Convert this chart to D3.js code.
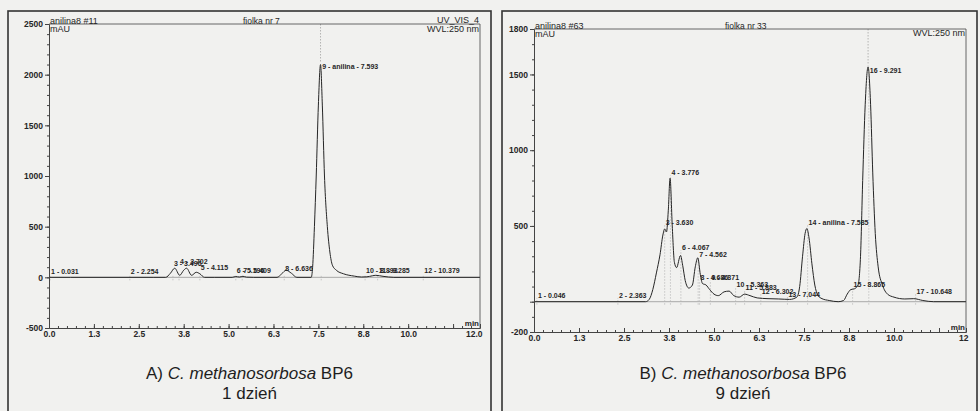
<!DOCTYPE html>
<html>
<head>
<meta charset="utf-8">
<script src="https://cdn.jsdelivr.net/npm/d3@7"></script>
<style>
  body { margin: 0; background: #f1f1ef; }
  svg { display: block; font-family: "Liberation Sans", Arial, sans-serif; }
</style>
</head>
<body>
<div id="chart"></div>
<script>
// --- chromatogram A (1 dzien) ---
var timeA = [0, 0.6, 2.9, 3.25, 3.38, 3.5, 3.64, 3.75, 3.83, 3.97, 4.1, 4.2, 4.33, 4.6,
  5.1, 5.2, 5.3, 5.4, 5.5, 5.7, 6.35, 6.48, 6.6, 6.75, 6.9, 7.3, 7.34, 7.39, 7.44, 7.5,
  7.56, 7.61, 7.67, 7.75, 7.82, 7.89, 8.0, 8.2, 8.5, 8.7, 8.85, 9.0, 9.1, 9.3, 9.6, 12];
var mauA = [0, 0, 0, 0, 40, 90, 20, 70, 90, 20, 50, 35, 0, 0,
  0, 8, 3, 10, 2, 0, 0, 35, 70, 40, 0, 0, 100, 500, 1000, 1700,
  2100, 1700, 1000, 500, 250, 120, 70, 35, 12, 3, 5, 15, 20, 10, 0, 0];

var peakNameA = ["1 - 0.031", "2 - 2.254", "3 - 3.496", "4 - 3.702", "5 - 4.115", "6 - 5.196",
  "7 - 5.409", "8 - 6.636", "9 - anilina - 7.593", "10 - 8.893", "11 - 9.285", "12 - 10.379"];
var peakTimeA = [0.03, 2.25, 3.45, 3.62, 4.2, 5.2, 5.38, 6.55, 7.58, 8.8, 9.15, 10.42];
var peakLevelA = [30, 30, 110, 135, 70, 40, 40, 60, 2060, 40, 40, 40];

// --- chromatogram B (9 dzien) ---
var timeB = [0, 3.1, 3.2, 3.3, 3.4, 3.5, 3.58, 3.63, 3.68, 3.73, 3.78, 3.84, 3.9, 3.96,
  4.07, 4.13, 4.2, 4.3, 4.4, 4.48, 4.55, 4.62, 4.68, 4.78, 4.88, 5.0, 5.12, 5.28, 5.42,
  5.55, 5.7, 5.85, 6.0, 6.2, 6.5, 6.8, 7.1, 7.3, 7.38, 7.46, 7.53, 7.58, 7.64, 7.72, 7.8,
  7.88, 8.0, 8.2, 8.45, 8.6, 8.7, 8.8, 8.9, 9.0, 9.07, 9.13, 9.2, 9.28, 9.35, 9.41, 9.48,
  9.56, 9.68, 9.82, 10.0, 10.3, 10.55, 10.8, 11.1, 12];
var mauB = [0, 0, 15, 80, 190, 310, 440, 480, 460, 600, 815, 500, 260, 225,
  305, 240, 140, 90, 110, 230, 290, 180, 120, 110, 80, 50, 40, 65, 70,
  40, 30, 50, 40, 25, 20, 18, 15, 30, 100, 300, 450, 483, 420, 250, 110,
  45, 20, 8, 0, 8, 50, 80, 85, 110, 300, 800, 1300, 1550, 1300, 850, 450,
  230, 110, 50, 30, 18, 20, 8, 0, 0];

var peakNameB = ["1 - 0.046", "2 - 2.363", "3 - 3.630", "4 - 3.776", "6 - 4.067", "7 - 4.562",
  "8 - 4.686", "9 - 4.871", "10 - 5.363", "11 - 5.883", "12 - 6.302", "13 - 7.044",
  "14 - anilina - 7.585", "15 - 8.865", "16 - 9.291", "17 - 10.648"];
var peakTimeB = [0.08, 2.33, 3.63, 3.79, 4.08, 4.56, 4.6, 4.9, 5.6, 5.85, 6.3, 7.04,
  7.6, 8.85, 9.3, 10.6];
var peakLevelB = [25, 25, 505, 835, 340, 295, 140, 140, 100, 80, 50, 30, 505, 100, 1510, 50];

// axes
var xTicks = [0, 1.25, 2.5, 3.75, 5, 6.25, 7.5, 8.75, 10, 11.25, 12];
var xTickLabelsA = ["0.0", "1.3", "2.5", "3.8", "5.0", "6.3", "7.5", "8.8", "10.0", "", "12.0"];
var xTickLabelsB = ["0.0", "1.3", "2.5", "3.8", "5.0", "6.3", "7.5", "8.8", "10.0", "", "12"];
var yTicksA = [-500, 0, 500, 1000, 1500, 2000, 2500];
var yTickLabelsA = ["-500", "0", "500", "1000", "1500", "2000", "2500"];
var yTicksB = [-200, 0, 500, 1000, 1500, 1800];
var yTickLabelsB = ["-200", "", "500", "1000", "1500", "1800"];

var W = 980, H = 411;
var ink = "#262626";

var svg = d3.select("#chart").append("svg")
  .attr("width", W).attr("height", H);

svg.append("rect").attr("width", W).attr("height", H).attr("fill", "#f1f1ef");

function drawPanel(p) {
  var x = d3.scaleLinear().domain([0, 12]).range([p.left, p.right]);
  var y = d3.scaleLinear().domain(p.yDomain).range([p.bottom, p.top]);
  var g = svg.append("g");

  // outer frame
  g.append("rect")
    .attr("x", p.frame[0]).attr("y", p.frame[1])
    .attr("width", p.frame[2] - p.frame[0]).attr("height", 420 - p.frame[1])
    .attr("fill", "none").attr("stroke", "#333").attr("stroke-width", 1.6);

  // zero line
  g.append("line")
    .attr("x1", x(0)).attr("x2", x(12)).attr("y1", y(0)).attr("y2", y(0))
    .attr("stroke", "#8a8a8a").attr("stroke-width", 0.7);

  // faint peak markers
  g.selectAll(".mark").data(p.peakTime).enter().append("line")
    .attr("x1", function (d) { return x(d); }).attr("x2", function (d) { return x(d); })
    .attr("y1", y(0) + 3)
    .attr("y2", function (d, i) { return p.dropLines ? y(p.peakLevel[i]) : y(0) - 3; })
    .attr("stroke", "#b5b5b5").attr("stroke-width", 0.7)
    .attr("stroke-dasharray", "1.5,1.5");
  // dotted line from the top to the biggest peak
  g.append("line")
    .attr("x1", x(p.topPeak)).attr("x2", x(p.topPeak))
    .attr("y1", p.top).attr("y2", y(p.topLevel))
    .attr("stroke", "#9a9a9a").attr("stroke-width", 0.7)
    .attr("stroke-dasharray", "1.5,1.5");

  // trace
  var line = d3.line()
    .x(function (d) { return x(d[0]); })
    .y(function (d) { return y(d[1]); })
    .curve(d3.curveMonotoneX);
  g.append("path")
    .datum(d3.zip(p.time, p.mau))
    .attr("d", line)
    .attr("fill", "none").attr("stroke", ink).attr("stroke-width", 1);

  // plot box: top and right edges
  g.append("path")
    .attr("d", "M" + p.left + "," + p.top + "H" + p.right + "V" + p.bottom)
    .attr("fill", "none").attr("stroke", "#444").attr("stroke-width", 0.8);

  // y axis
  var yMinor = d3.range(p.yDomain[0], p.yDomain[1] + 1, 100);
  g.append("g").attr("transform", "translate(" + p.left + ",0)")
    .call(d3.axisLeft(y).tickValues(yMinor).tickSize(2).tickSizeOuter(0).tickFormat(""))
    .call(function (a) { a.selectAll("line,path").attr("stroke", "#444"); });
  g.append("g").attr("transform", "translate(" + p.left + ",0)")
    .call(d3.axisLeft(y).tickValues(p.yTicks).tickSize(4).tickSizeOuter(0).tickPadding(2)
      .tickFormat(function (d, i) { return p.yLabels[i]; }))
    .call(function (a) {
      a.select(".domain").attr("stroke", "#444");
      a.selectAll("line").attr("stroke", "#444");
      a.selectAll("text").attr("font-size", 8.5).attr("font-weight", "bold")
        .attr("fill", ink).attr("font-family", "Liberation Sans, Arial");
    });

  // x axis at the bottom, ticks pointing up
  var xMinor = d3.range(0, 12.01, 0.25);
  g.append("g").attr("transform", "translate(0," + p.bottom + ")")
    .call(d3.axisBottom(x).tickValues(xMinor).tickSize(-2).tickSizeOuter(0).tickFormat(""))
    .call(function (a) { a.selectAll("line,path").attr("stroke", "#444"); });
  g.append("g").attr("transform", "translate(0," + p.bottom + ")")
    .call(d3.axisBottom(x).tickValues(xTicks).tickSize(-4).tickSizeOuter(0).tickPadding(3)
      .tickFormat(function (d, i) { return p.xLabels[i]; }))
    .call(function (a) {
      a.select(".domain").attr("stroke", "#444");
      a.selectAll("line").attr("stroke", "#444");
      a.selectAll("text").attr("font-size", 8.5).attr("font-weight", "bold")
        .attr("fill", ink).attr("font-family", "Liberation Sans, Arial")
        .attr("text-anchor", function (d) { return d === 12 ? "end" : "middle"; })
        .attr("x", function (d) { return d === 12 ? 2 : 0; });
    });

  g.append("text").attr("x", p.right - 1).attr("y", p.bottom - 2)
    .attr("text-anchor", "end").attr("font-size", 8).attr("font-weight", "bold")
    .attr("fill", ink).text("min");

  // peak labels
  g.selectAll(".plabel").data(p.peakName).enter().append("text")
    .attr("x", function (d, i) { return x(p.peakTime[i]) + 1; })
    .attr("y", function (d, i) { return y(p.peakLevel[i]); })
    .attr("font-size", 7).attr("font-weight", "bold").attr("fill", ink)
    .text(function (d) { return d; });

  // header texts
  g.append("text").attr("x", p.left + 1).attr("y", p.top - 0.5)
    .attr("font-size", 9).attr("fill", ink).text(p.sample);
  g.append("text").attr("x", p.left + 1).attr("y", p.top + 8)
    .attr("font-size", 9).attr("fill", ink).text("mAU");
  g.append("text").attr("x", p.vialX).attr("y", p.top - 0.5)
    .attr("font-size", 8.5).attr("fill", ink).text(p.vial);
  if (p.channel) {
    g.append("text").attr("x", p.right - 1).attr("y", p.top - 1.5)
      .attr("text-anchor", "end").attr("font-size", 9).attr("fill", ink).text(p.channel);
  }
  g.append("text").attr("x", p.right - 1).attr("y", p.top + p.wvlDy)
    .attr("text-anchor", "end").attr("font-size", 9).attr("fill", ink).text("WVL:250 nm");

  // caption
  var cx = (p.left + p.right) / 2 + p.captionShift;
  var t1 = g.append("text").attr("x", cx).attr("y", 379).attr("text-anchor", "middle")
    .attr("font-size", 17).attr("fill", "#1e1e1e");
  t1.append("tspan").text(p.letter + ") ");
  t1.append("tspan").attr("font-style", "italic").text("C. methanosorbosa");
  t1.append("tspan").text(" BP6");
  g.append("text").attr("x", cx).attr("y", 399).attr("text-anchor", "middle")
    .attr("font-size", 17).attr("fill", "#1e1e1e").text(p.day);
}

drawPanel({
  frame: [8, 11, 491], left: 49, right: 480, top: 24, bottom: 328,
  yDomain: [-500, 2500], yTicks: yTicksA, yLabels: yTickLabelsA, xLabels: xTickLabelsA,
  time: timeA, mau: mauA, peakName: peakNameA, peakTime: peakTimeA, peakLevel: peakLevelA,
  dropLines: false, topPeak: 7.56, topLevel: 2120,
  sample: "anilina8 #11", vial: "fiolka nr 7", vialX: 243, channel: "UV_VIS_4", wvlDy: 8,
  letter: "A", day: "1 dzień", captionShift: -15
});

drawPanel({
  frame: [502, 11, 977], left: 534, right: 966, top: 29, bottom: 332,
  yDomain: [-200, 1800], yTicks: yTicksB, yLabels: yTickLabelsB, xLabels: xTickLabelsB,
  time: timeB, mau: mauB, peakName: peakNameB, peakTime: peakTimeB, peakLevel: peakLevelB,
  dropLines: true, topPeak: 9.28, topLevel: 1560,
  sample: "anilina8 #63", vial: "fiolka nr 33", vialX: 725, channel: null, wvlDy: 7,
  letter: "B", day: "9 dzień", captionShift: -7
});
</script>
</body>
</html>
